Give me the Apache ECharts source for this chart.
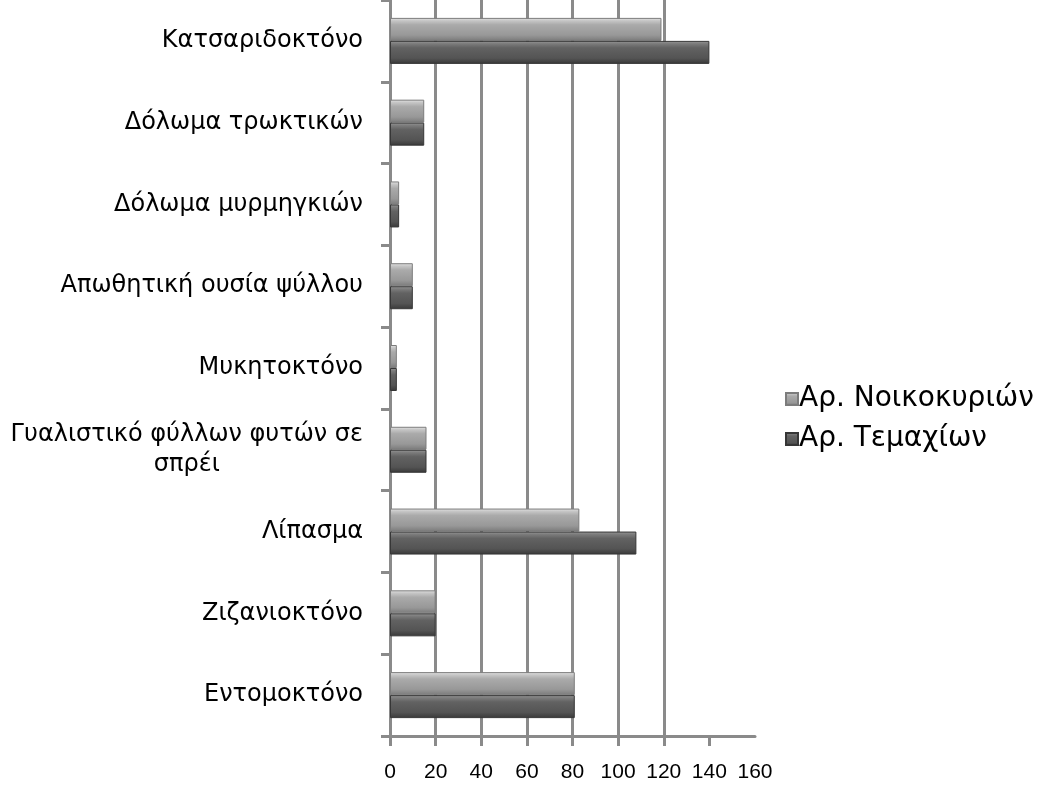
<!DOCTYPE html>
<html>
<head>
<meta charset="utf-8">
<script src="https://cdn.jsdelivr.net/npm/echarts@6/dist/echarts.min.js"></script>
<style>
  html, body { margin: 0; padding: 0; background: #fff; }
  #chart { width: 1042px; height: 786px; }
</style>
</head>
<body>
<div id="chart"></div>
<script>
// Product categories, listed top to bottom
const categories = [
  'Κατσαριδοκτόνο',
  'Δόλωμα τρωκτικών',
  'Δόλωμα μυρμηγκιών',
  'Απωθητική ουσία ψύλλου',
  'Μυκητοκτόνο',
  'Γυαλιστικό φύλλων φυτών σε\nσπρέι',
  'Λίπασμα',
  'Ζιζανιοκτόνο',
  'Εντομοκτόνο'
];

// Number of households per product
const households = [119, 15, 4, 10, 3, 16, 83, 20, 81];
// Number of items per product
const items = [140, 15, 4, 10, 3, 16, 108, 20, 81];

const seriesNames = ['Αρ. Νοικοκυριών', 'Αρ. Τεμαχίων'];
const xTicks = [0, 20, 40, 60, 80, 100, 120, 140];

const grad = (stops) => new echarts.graphic.LinearGradient(0, 0, 0, 1,
  stops.map(([offset, color]) => ({ offset, color })));

const lightFill = grad([[0, '#e6e6e6'], [0.12, '#c6c6c6'], [0.3, '#aaaaaa'], [0.75, '#989898'], [1, '#7a7a7a']]);
const darkFill = grad([[0, '#999999'], [0.12, '#7c7c7c'], [0.3, '#626262'], [0.75, '#545454'], [1, '#383838']]);

const labelFont = 'DejaVu Sans, Verdana, sans-serif';

const chart = echarts.init(document.getElementById('chart'), null, { renderer: 'canvas' });

chart.setOption({
  backgroundColor: '#ffffff',
  animation: false,
  textStyle: { fontFamily: 'Liberation Sans, Arial, sans-serif' },
  grid: { left: 390, top: -6, width: 365, height: 742, containLabel: false },
  legend: {
    orient: 'vertical',
    left: 780,
    top: 380,
    itemWidth: 12,
    itemHeight: 12,
    itemGap: 12,
    icon: 'rect',
    textStyle: { fontSize: 28, fontFamily: labelFont, color: '#000', padding: [0, 0, 0, -4] },
    data: seriesNames
  },
  xAxis: {
    type: 'value',
    min: 0,
    max: 160,
    interval: 20,
    axisLine: { show: true, lineStyle: { color: '#8a8a8a', width: 3 } },
    axisTick: { show: true, length: 10, customValues: xTicks, lineStyle: { color: '#8a8a8a', width: 3 } },
    axisLabel: { fontSize: 21, color: '#000', margin: 26 },
    splitLine: { show: true, showMinLine: false, showMaxLine: false, lineStyle: { color: '#8a8a8a', width: 3 } }
  },
  yAxis: {
    type: 'category',
    inverse: true,
    data: categories,
    axisLine: { show: true, lineStyle: { color: '#8a8a8a', width: 3 } },
    axisTick: { show: true, length: 9, lineStyle: { color: '#8a8a8a', width: 3 } },
    axisLabel: {
      fontSize: 24,
      fontFamily: labelFont,
      color: '#000',
      margin: 27,
      lineHeight: 30,
      formatter: (v) => v.split('\n').map(s => '{c|' + s + '}').join('\n'),
      rich: { c: { fontSize: 24, fontFamily: labelFont, color: '#000', align: 'center', lineHeight: 30 } }
    }
  },
  series: [
    {
      name: seriesNames[0],
      type: 'bar',
      data: households,
      barWidth: 23,
      barGap: '0%',
      itemStyle: { color: lightFill, borderColor: '#7c7c7c', borderWidth: 1 }
    },
    {
      name: seriesNames[1],
      type: 'bar',
      data: items,
      barWidth: 23,
      barGap: '0%',
      itemStyle: { color: darkFill, borderColor: '#363636', borderWidth: 1 }
    }
  ]
});
</script>
</body>
</html>
